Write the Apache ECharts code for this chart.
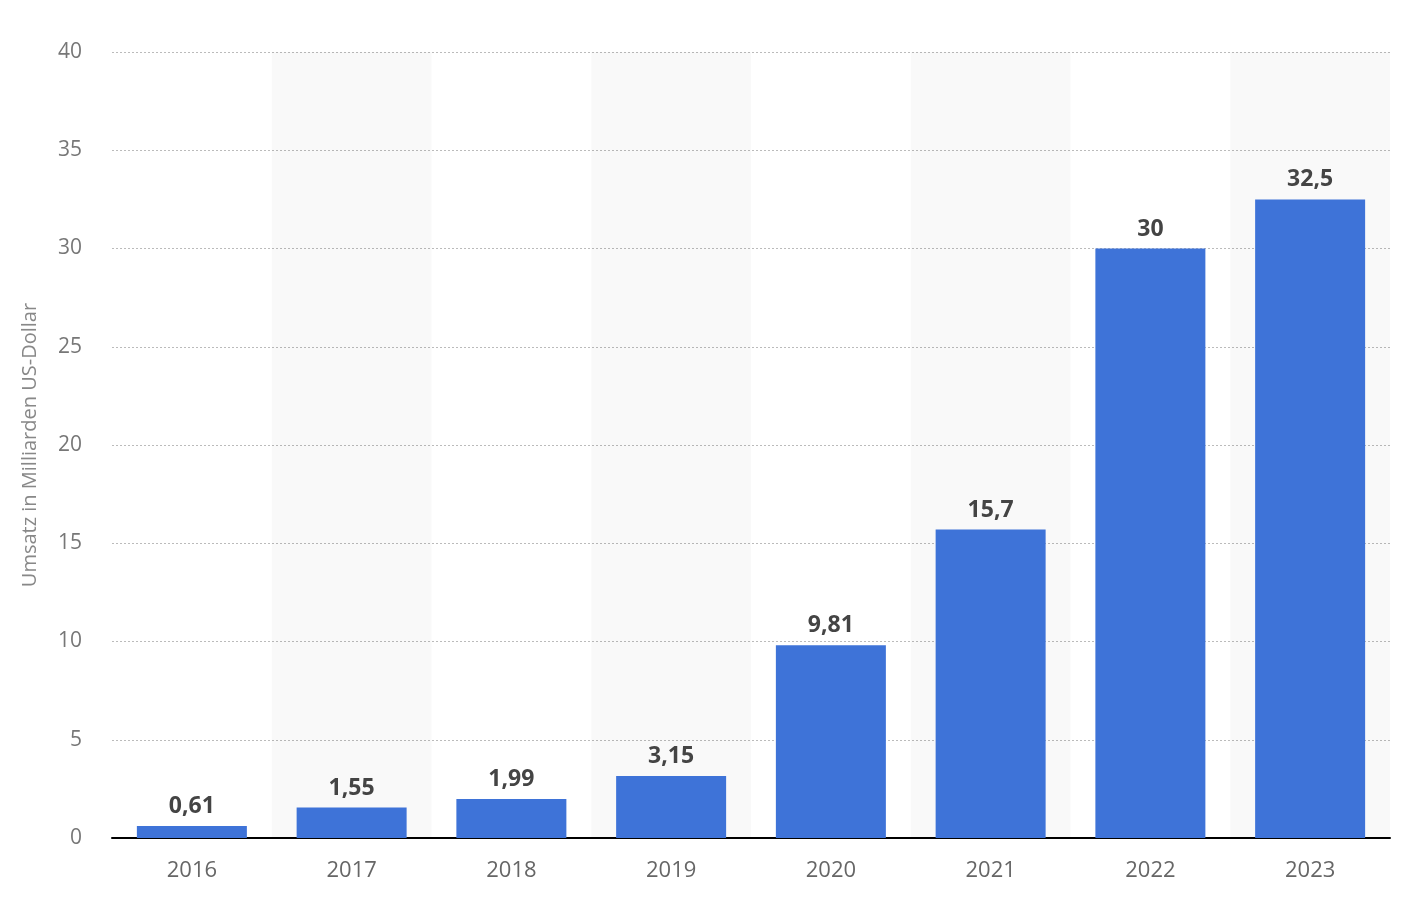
<!DOCTYPE html>
<html>
<head>
<meta charset="utf-8">
<script src="https://cdn.jsdelivr.net/npm/echarts@6/dist/echarts.min.js"></script>
<style>
html,body{margin:0;padding:0;background:#fff;}
#chart{width:1404px;height:910px;}
</style>
</head>
<body>
<div id="chart"></div>
<script>
const categories = ['2016','2017','2018','2019','2020','2021','2022','2023'];
const values = [0.61, 1.55, 1.99, 3.15, 9.81, 15.7, 30, 32.5];
const yAxisTitle = 'Umsatz in Milliarden US-Dollar';
const yMin = 0, yMax = 40, yInterval = 5;

const chart = echarts.init(document.getElementById('chart'));
const font = '"Open Sans", "Noto Sans", sans-serif';
chart.setOption({
  animation: false,
  grid: { left: 112, right: 14, top: 52, bottom: 72 },
  xAxis: {
    type: 'category',
    data: categories,
    z: 2,
    axisLine: { lineStyle: { color: '#000', width: 2 } },
    axisTick: { show: false },
    axisLabel: { color: '#666', fontSize: 22, fontFamily: font, margin: 22 },
    splitArea: { show: true, areaStyle: { color: ['rgba(255,255,255,0)', 'rgba(0,0,0,0.024)'] } }
  },
  yAxis: {
    type: 'value',
    z: 1,
    min: yMin, max: yMax, interval: yInterval,
    name: yAxisTitle,
    nameLocation: 'middle',
    nameGap: 72,
    nameTextStyle: { color: '#888', fontSize: 20, fontFamily: font },
    axisLine: { show: false },
    axisTick: { show: false },
    axisLabel: { color: '#777', fontSize: 21, fontFamily: font, margin: 30 },
    splitLine: { lineStyle: { color: '#bbb', type: [2, 2], width: 1 } }
  },
  series: [{
    type: 'bar',
    z: 3,
    data: values,
    barWidth: 110,
    itemStyle: { color: '#3e73d8' },
    label: {
      show: true,
      position: 'top',
      distance: 8,
      color: '#444',
      fontWeight: 'bold',
      fontSize: 23,
      fontFamily: font,
      formatter: p => String(p.value).replace('.', ',')
    }
  }]
});
</script>
</body>
</html>
